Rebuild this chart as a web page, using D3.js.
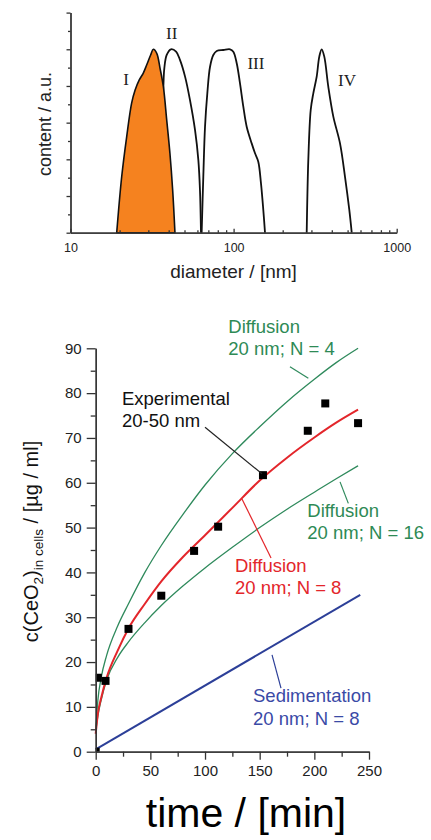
<!doctype html>
<html>
<head>
<meta charset="utf-8">
<style>
  body { margin: 0; background: #fff; }
  text { font-family: "Liberation Sans", Arial, sans-serif; }
  .roman { font-family: "Liberation Serif", "Times New Roman", serif; }
  .ax path, .ax line { stroke: #333; stroke-width: 1.3; }
  .ax text { fill: #222; }
</style>
<script src="https://d3js.org/d3.v7.min.js"></script>
</head>
<body>
<svg width="431" height="840"></svg>
<script>
// ---- top panel: size distributions (diameter in nm, content in a.u.)
var peakI_d   = [19.2, 20.6, 22.1, 23.7, 24.9, 26.4, 27.9, 29.3, 31.0, 32.2, 33.8, 35.4, 37.1, 38.9, 40.7, 42.3, 43.7];
var peakI_v   = [0, 0.305, 0.523, 0.706, 0.778, 0.833, 0.869, 0.914, 0.969, 1.0, 0.978, 0.896, 0.796, 0.614, 0.433, 0.233, 0];
var peakII_d  = [34.4, 35.9, 37.1, 37.6, 38.9, 41.3, 44.4, 46.9, 50.4, 54.0, 58.0, 60.8, 62.2, 63.1];
var peakII_v  = [0, 0.451, 0.796, 0.896, 0.969, 1.0, 0.987, 0.942, 0.851, 0.724, 0.560, 0.396, 0.233, 0];
var peakIII_d = [63.7, 65.2, 66.8, 69.0, 71.7, 75.1, 78.8, 86.5, 95.1, 99.6, 104.5, 109.4, 114.7, 120.3, 129.1, 135.3, 141.7, 147.2, 152.1, 155.8];
var peakIII_v = [0, 0.305, 0.578, 0.760, 0.905, 0.969, 0.991, 0.996, 1.0, 0.987, 0.924, 0.815, 0.687, 0.578, 0.487, 0.433, 0.387, 0.269, 0.124, 0];
var peakIV_d  = [280.7, 287.1, 297.0, 308.1, 323.2, 335.3, 346.8, 359.8, 380.7, 408.7, 449.2, 482.0, 512.2, 529.9];
var peakIV_v  = [0, 0.396, 0.669, 0.760, 0.851, 0.960, 1.0, 0.960, 0.796, 0.633, 0.487, 0.305, 0.124, 0];
var peakNames = ["I", "II", "III", "IV"];
var peakLabelD = [21.9, 41.7, 137, 496];
var peakLabelV = [0.805, 1.056, 0.893, 0.80];
var diamTicks = [10, 100, 1000];

// ---- bottom panel: uptake vs time
var expTime = [0, 2, 9, 30, 60, 90, 112, 153, 194, 210, 240];
var expConc = [0, 16.5, 15.8, 27.4, 34.8, 44.8, 50.2, 61.7, 71.6, 77.7, 73.3];
var modelTime = [0, 2, 5, 10, 20, 30, 45, 60, 80, 100, 125, 150, 175, 200, 220, 240];
var diffN4  = [4.5, 11.5, 16.5, 21.5, 28, 33, 40, 46, 53, 59.5, 66.5, 72.5, 78.1, 83.1, 86.8, 90];
var diffN8  = [4, 8.5, 12, 16.5, 22.5, 27.5, 33.0, 38.0, 43.5, 48.3, 54.4, 60.5, 65.6, 70.1, 73.4, 76.3];
var diffN16 = [4.5, 8, 11.5, 16, 21, 24.5, 28.8, 32.6, 37.0, 41.0, 45.6, 50.0, 54.1, 57.9, 60.9, 63.8];
var sedTime = [0, 242];
var sedConc = [0.5, 35];
var timeTicks = [0, 50, 100, 150, 200, 250];
var concTicks = [0, 10, 20, 30, 40, 50, 60, 70, 80, 90];

var svg = d3.select("svg");

function zip(a, b) { return a.map(function(v, i) { return [v, b[i]]; }); }

// ================= TOP PANEL =================
var xD = d3.scaleLog().domain([10, 1000]).range([70.5, 396.7]);
var yC = d3.scaleLinear().domain([0, 1.2]).range([232.7, 12.6]);

var gTop = svg.append("g");
var peakLine = d3.line()
    .x(function(d) { return xD(d[0]); })
    .y(function(d) { return yC(d[1]); })
    .curve(d3.curveCatmullRom.alpha(0.5));

[[peakII_d, peakII_v], [peakIII_d, peakIII_v], [peakIV_d, peakIV_v]].forEach(function(p) {
    gTop.append("path")
       .attr("d", peakLine(zip(p[0], p[1])))
       .attr("fill", "none")
       .attr("stroke", "#111")
       .attr("stroke-width", 1.8)
       .attr("stroke-linejoin", "round");
});

// filled peak I drawn on top of II
var peakArea = d3.area()
    .x(function(d) { return xD(d[0]); })
    .y0(yC(0))
    .y1(function(d) { return yC(d[1]); })
    .curve(d3.curveCatmullRom.alpha(0.5));
gTop.append("path")
   .attr("d", peakArea(zip(peakI_d, peakI_v)))
   .attr("fill", "#f5821f")
   .attr("stroke", "#111")
   .attr("stroke-width", 1.6)
   .attr("stroke-linejoin", "round");

peakNames.forEach(function(n, i) {
    gTop.append("text")
       .attr("class", "roman")
       .attr("x", xD(peakLabelD[i]))
       .attr("y", yC(peakLabelV[i]))
       .attr("text-anchor", "middle")
       .attr("font-size", "17px")
       .attr("fill", "#222")
       .text(n);
});

// axes of top panel
var minorDiam = [];
[10, 100].forEach(function(dec) { for (var k = 2; k <= 9; k++) minorDiam.push(dec * k); });

gTop.append("g").attr("class", "ax")
   .attr("transform", "translate(0," + yC(0) + ")")
   .call(d3.axisBottom(xD).tickValues(minorDiam).tickSize(-2.5).tickSizeOuter(0).tickFormat(""));
gTop.append("g").attr("class", "ax")
   .attr("transform", "translate(0," + yC(0) + ")")
   .call(d3.axisBottom(xD).tickValues(diamTicks).tickSize(-4).tickSizeOuter(0).tickPadding(10.5)
         .tickFormat(d3.format("d")))
   .selectAll("text").attr("font-size", "12.5px");

gTop.append("g").attr("class", "ax")
   .attr("transform", "translate(" + xD(10) + ",0)")
   .call(d3.axisLeft(yC).tickValues(d3.range(0.1, 1.2, 0.2)).tickSize(2.5).tickSizeOuter(0).tickFormat(""));
gTop.append("g").attr("class", "ax")
   .attr("transform", "translate(" + xD(10) + ",0)")
   .call(d3.axisLeft(yC).tickValues(d3.range(0, 1.21, 0.2)).tickSize(4).tickSizeOuter(0).tickFormat(""));

gTop.append("text")
   .attr("transform", "translate(51,124) rotate(-90)")
   .attr("text-anchor", "middle")
   .attr("font-size", "18px")
   .attr("fill", "#222")
   .text("content / a.u.");

gTop.append("text")
   .attr("x", 233.5)
   .attr("y", 278)
   .attr("text-anchor", "middle")
   .attr("font-size", "19px")
   .attr("fill", "#222")
   .text("diameter / [nm]");

// ================= BOTTOM PANEL =================
var xT = d3.scaleLinear().domain([0, 250]).range([95.7, 369]);
var yU = d3.scaleLinear().domain([0, 90]).range([751.7, 348.3]);

var gBot = svg.append("g");

gBot.append("clipPath").attr("id", "plotclip")
   .append("rect")
   .attr("x", xT(0)).attr("y", 300)
   .attr("width", 335).attr("height", yU(0) - 300);

var modelLine = d3.line()
    .x(function(d) { return xT(d[0]); })
    .y(function(d) { return yU(d[1]); })
    .curve(d3.curveMonotoneX);

var green = "#2f8a5c", red = "#e3262b", blue = "#2c3f98";

gBot.append("path").attr("d", modelLine(zip(modelTime, diffN4)))
   .attr("fill", "none").attr("stroke", green).attr("stroke-width", 1.3);
gBot.append("path").attr("d", modelLine(zip(modelTime, diffN16)))
   .attr("fill", "none").attr("stroke", green).attr("stroke-width", 1.3);
gBot.append("path").attr("d", modelLine(zip(modelTime, diffN8)))
   .attr("fill", "none").attr("stroke", red).attr("stroke-width", 2);
gBot.append("path").attr("d", modelLine(zip(sedTime, sedConc)))
   .attr("fill", "none").attr("stroke", blue).attr("stroke-width", 2);

// experimental squares
gBot.append("g").attr("clip-path", "url(#plotclip)")
   .selectAll("rect")
   .data(zip(expTime, expConc))
   .enter()
   .append("rect")
   .attr("x", function(d) { return xT(d[0]) - 4; })
   .attr("y", function(d) { return yU(d[1]) - 4; })
   .attr("width", 8)
   .attr("height", 8)
   .attr("fill", "#000");

// annotations: text anchor (t, c), two lines, and a leader line in data units
var notes = [
    { t: 121.3, c: 93.4, lines: ["Diffusion", "20 nm; N = 4"], color: "#2e8a55", lead: [[177.7, 85.9], [194.5, 83.3]], lc: green },
    { t: 24.0, c: 77.4, lines: ["Experimental", "20-50 nm"], color: "#111", lead: [[100, 72.4], [152.1, 62.0]], lc: "#222" },
    { t: 127.4, c: 40.2, lines: ["Diffusion", "20 nm; N = 8"], color: "#e3262b", lead: [[133.8, 56.4], [160.4, 43.2]], lc: red },
    { t: 193.6, c: 52.3, lines: ["Diffusion", "20 nm; N = 16"], color: "#2e8a55", lead: [[223.5, 60.2], [231.1, 55.4]], lc: green },
    { t: 143.9, c: 11.0, lines: ["Sedimentation", "20 nm; N = 8"], color: "#3a4aa6", lead: [[161.3, 21.6], [169.5, 14.2]], lc: blue }
];

notes.forEach(function(n) {
    gBot.append("line")
       .attr("x1", xT(n.lead[0][0])).attr("y1", yU(n.lead[0][1]))
       .attr("x2", xT(n.lead[1][0])).attr("y2", yU(n.lead[1][1]))
       .attr("stroke", n.lc).attr("stroke-width", 1.2);
    var t = gBot.append("text")
       .attr("x", xT(n.t)).attr("y", yU(n.c))
       .attr("font-size", "18.5px")
       .attr("fill", n.color);
    n.lines.forEach(function(s, i) {
        t.append("tspan").attr("x", xT(n.t)).attr("dy", i ? "1.2em" : 0).text(s);
    });
});

// axes of bottom panel
gBot.append("g").attr("class", "ax")
   .attr("transform", "translate(0," + yU(0) + ")")
   .call(d3.axisBottom(xT).tickValues([25, 75, 125, 175, 225]).tickSize(5).tickSizeOuter(0).tickFormat(""));
var xa = gBot.append("g").attr("class", "ax")
   .attr("transform", "translate(0," + yU(0) + ")")
   .call(d3.axisBottom(xT).tickValues(timeTicks).tickSize(8).tickSizeOuter(0).tickPadding(6));
xa.selectAll("text").attr("font-size", "15px");

gBot.append("g").attr("class", "ax")
   .attr("transform", "translate(" + xT(0) + ",0)")
   .call(d3.axisLeft(yU).tickValues(d3.range(5, 90, 10)).tickSize(5).tickSizeOuter(0).tickFormat(""));
var ya = gBot.append("g").attr("class", "ax")
   .attr("transform", "translate(" + xT(0) + ",0)")
   .call(d3.axisLeft(yU).tickValues(concTicks).tickSize(9).tickSizeOuter(0).tickPadding(5));
ya.selectAll("text").attr("font-size", "15px");

// y title with subscripts
var yt = gBot.append("text")
   .attr("transform", "translate(37.5,541.5) rotate(-90)")
   .attr("text-anchor", "middle")
   .attr("font-size", "20px")
   .attr("fill", "#111");
yt.append("tspan").text("c(CeO");
yt.append("tspan").attr("font-size", "13.5px").attr("dy", 5).text("2");
yt.append("tspan").attr("dy", -5).text(")");
yt.append("tspan").attr("font-size", "13.5px").attr("dy", 5).text("in cells");
yt.append("tspan").attr("dy", -5).text(" / [\u00b5g / ml]");

gBot.append("text")
   .attr("x", 246)
   .attr("y", 827)
   .attr("text-anchor", "middle")
   .attr("font-size", "41px")
   .attr("fill", "#000")
   .text("time / [min]");
</script>
</body>
</html>
